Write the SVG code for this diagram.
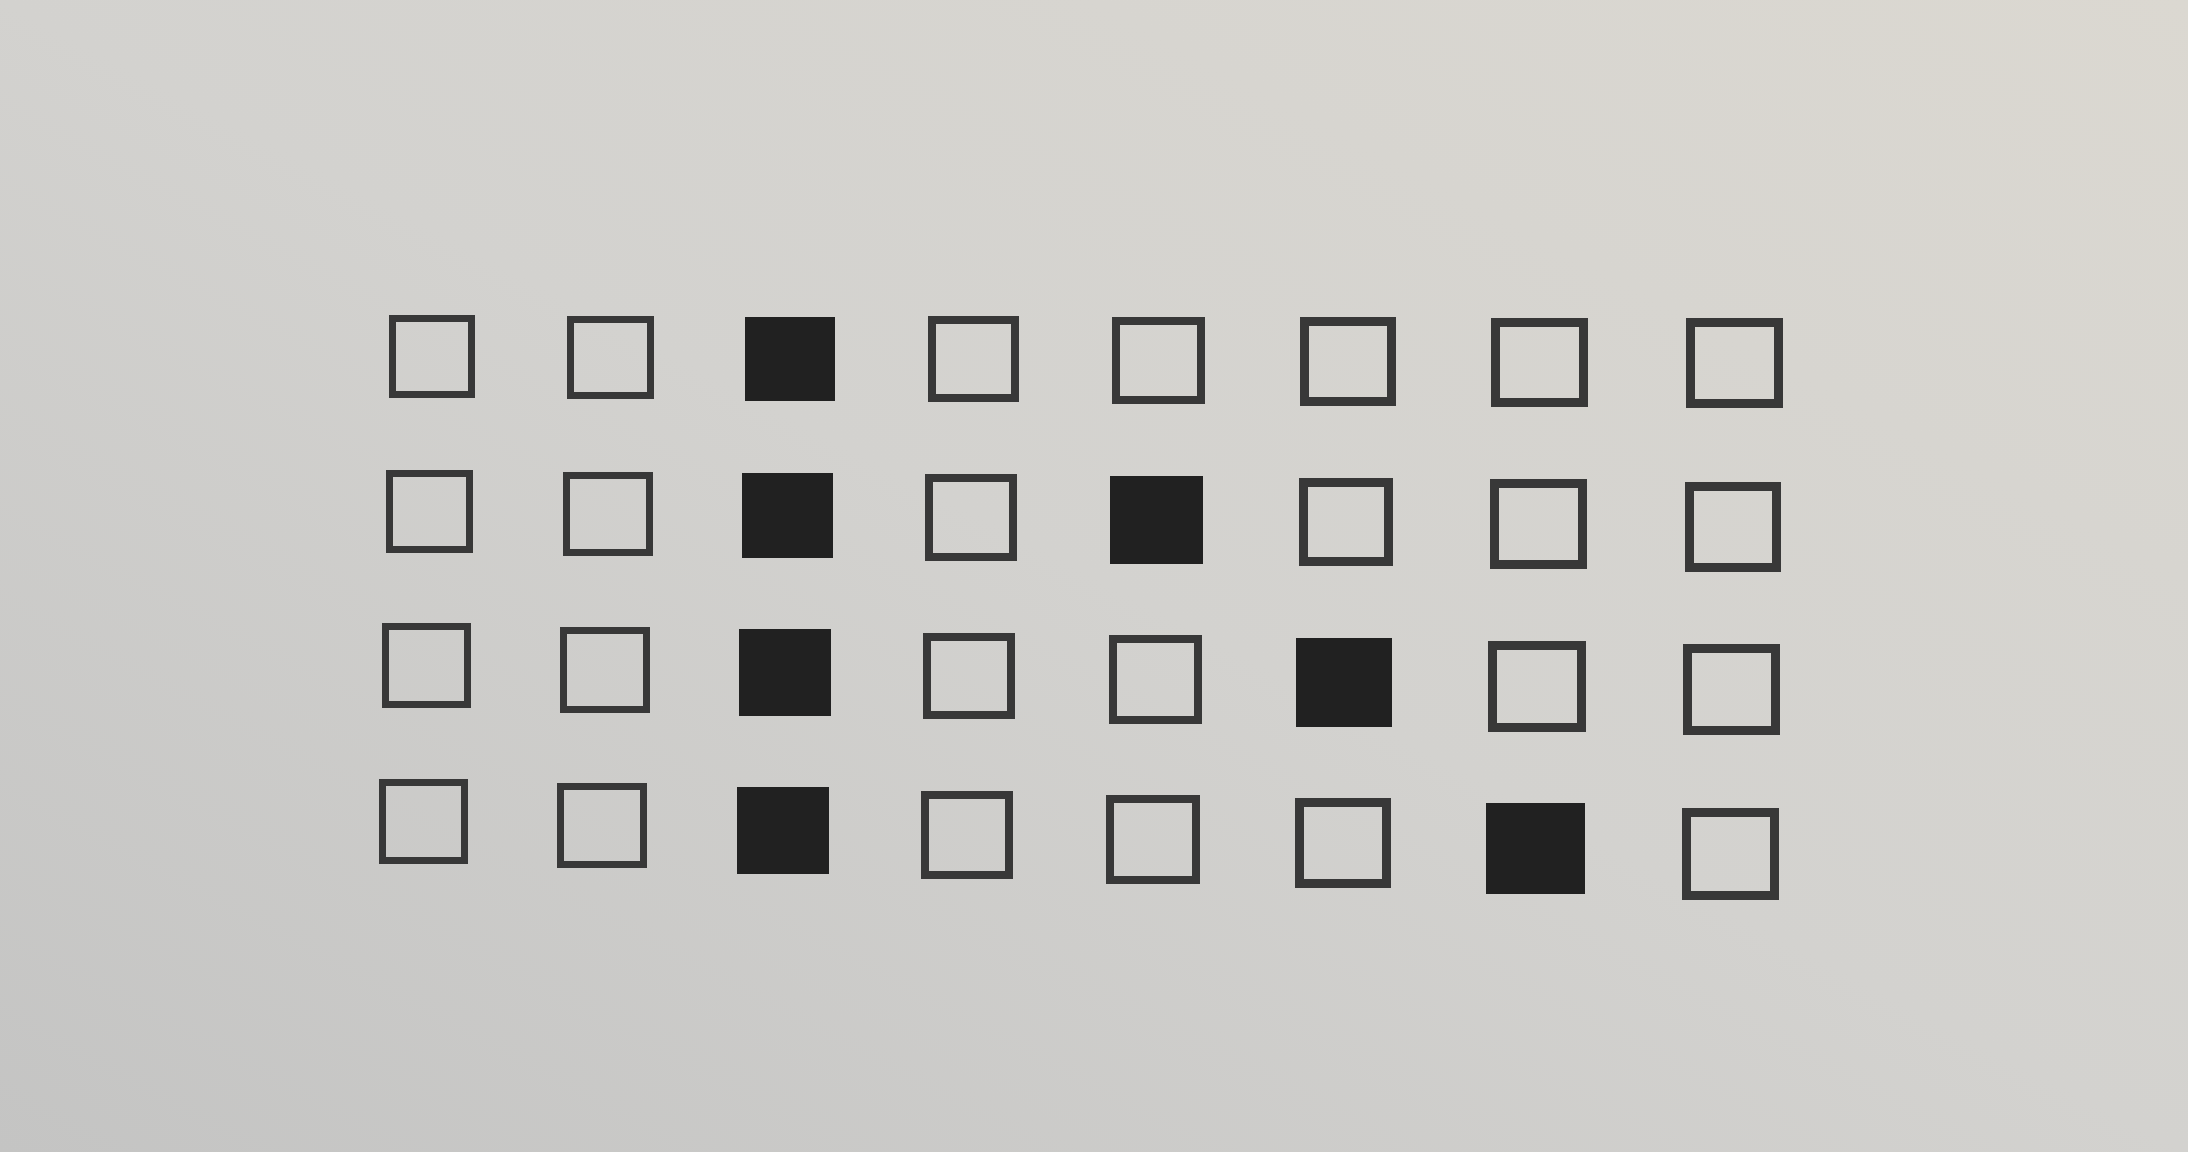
<svg xmlns="http://www.w3.org/2000/svg" width="2188" height="1152" viewBox="0 0 2188 1152">
<defs>
<linearGradient id="paper" x1="0" y1="1" x2="1" y2="0">
<stop offset="0" stop-color="#c4c4c3"/>
<stop offset="0.5" stop-color="#d3d2cf"/>
<stop offset="1" stop-color="#dbd8d1"/>
</linearGradient>
</defs>
<style>
.o{fill:none;stroke:#383838;stroke-linejoin:miter}
.a{stroke-width:7}
.b{stroke-width:8}
.c{stroke-width:9}
.f{fill:#212121}
</style>
<rect x="0" y="0" width="2188" height="1152" fill="url(#paper)"/>
<g id="row1">
<g id="r1c1"><rect class="o a" x="392.5" y="318.5" width="79" height="76"/></g>
<g id="r1c2"><rect class="o a" x="570.5" y="319.5" width="80" height="76"/></g>
<g id="r1c3"><rect class="f" x="745" y="317" width="90" height="84"/></g>
<g id="r1c4"><rect class="o b" x="932" y="320" width="83" height="78"/></g>
<g id="r1c5"><rect class="o b" x="1116" y="321" width="85" height="79"/></g>
<g id="r1c6"><rect class="o c" x="1304.5" y="321.5" width="87" height="80"/></g>
<g id="r1c7"><rect class="o c" x="1495.5" y="322.5" width="88" height="80"/></g>
<g id="r1c8"><rect class="o c" x="1690.5" y="322.5" width="88" height="81"/></g>
</g>
<g id="row2">
<g id="r2c1"><rect class="o a" x="389.5" y="473.5" width="80" height="76"/></g>
<g id="r2c2"><rect class="o a" x="566.5" y="475.5" width="83" height="77"/></g>
<g id="r2c3"><rect class="f" x="742" y="473" width="91" height="85"/></g>
<g id="r2c4"><rect class="o b" x="929" y="478" width="84" height="79"/></g>
<g id="r2c5"><rect class="f" x="1110" y="476" width="93" height="88"/></g>
<g id="r2c6"><rect class="o c" x="1303.5" y="482.5" width="85" height="79"/></g>
<g id="r2c7"><rect class="o c" x="1494.5" y="483.5" width="88" height="81"/></g>
<g id="r2c8"><rect class="o c" x="1689.5" y="486.5" width="87" height="81"/></g>
</g>
<g id="row3">
<g id="r3c1"><rect class="o a" x="385.5" y="626.5" width="82" height="78"/></g>
<g id="r3c2"><rect class="o a" x="563.5" y="630.5" width="83" height="79"/></g>
<g id="r3c3"><rect class="f" x="739" y="629" width="92" height="87"/></g>
<g id="r3c4"><rect class="o b" x="927" y="637" width="84" height="78"/></g>
<g id="r3c5"><rect class="o b" x="1113" y="639" width="85" height="81"/></g>
<g id="r3c6"><rect class="f" x="1296" y="638" width="96" height="89"/></g>
<g id="r3c7"><rect class="o c" x="1492.5" y="645.5" width="89" height="82"/></g>
<g id="r3c8"><rect class="o c" x="1687.5" y="648.5" width="88" height="82"/></g>
</g>
<g id="row4">
<g id="r4c1"><rect class="o a" x="382.5" y="782.5" width="82" height="78"/></g>
<g id="r4c2"><rect class="o a" x="560.5" y="786.5" width="83" height="78"/></g>
<g id="r4c3"><rect class="f" x="737" y="787" width="92" height="87"/></g>
<g id="r4c4"><rect class="o b" x="925" y="795" width="84" height="80"/></g>
<g id="r4c5"><rect class="o b" x="1110" y="799" width="86" height="81"/></g>
<g id="r4c6"><rect class="o c" x="1299.5" y="802.5" width="87" height="81"/></g>
<g id="r4c7"><rect class="f" x="1486" y="803" width="99" height="91"/></g>
<g id="r4c8"><rect class="o c" x="1686.5" y="812.5" width="88" height="83"/></g>
</g>
</svg>
